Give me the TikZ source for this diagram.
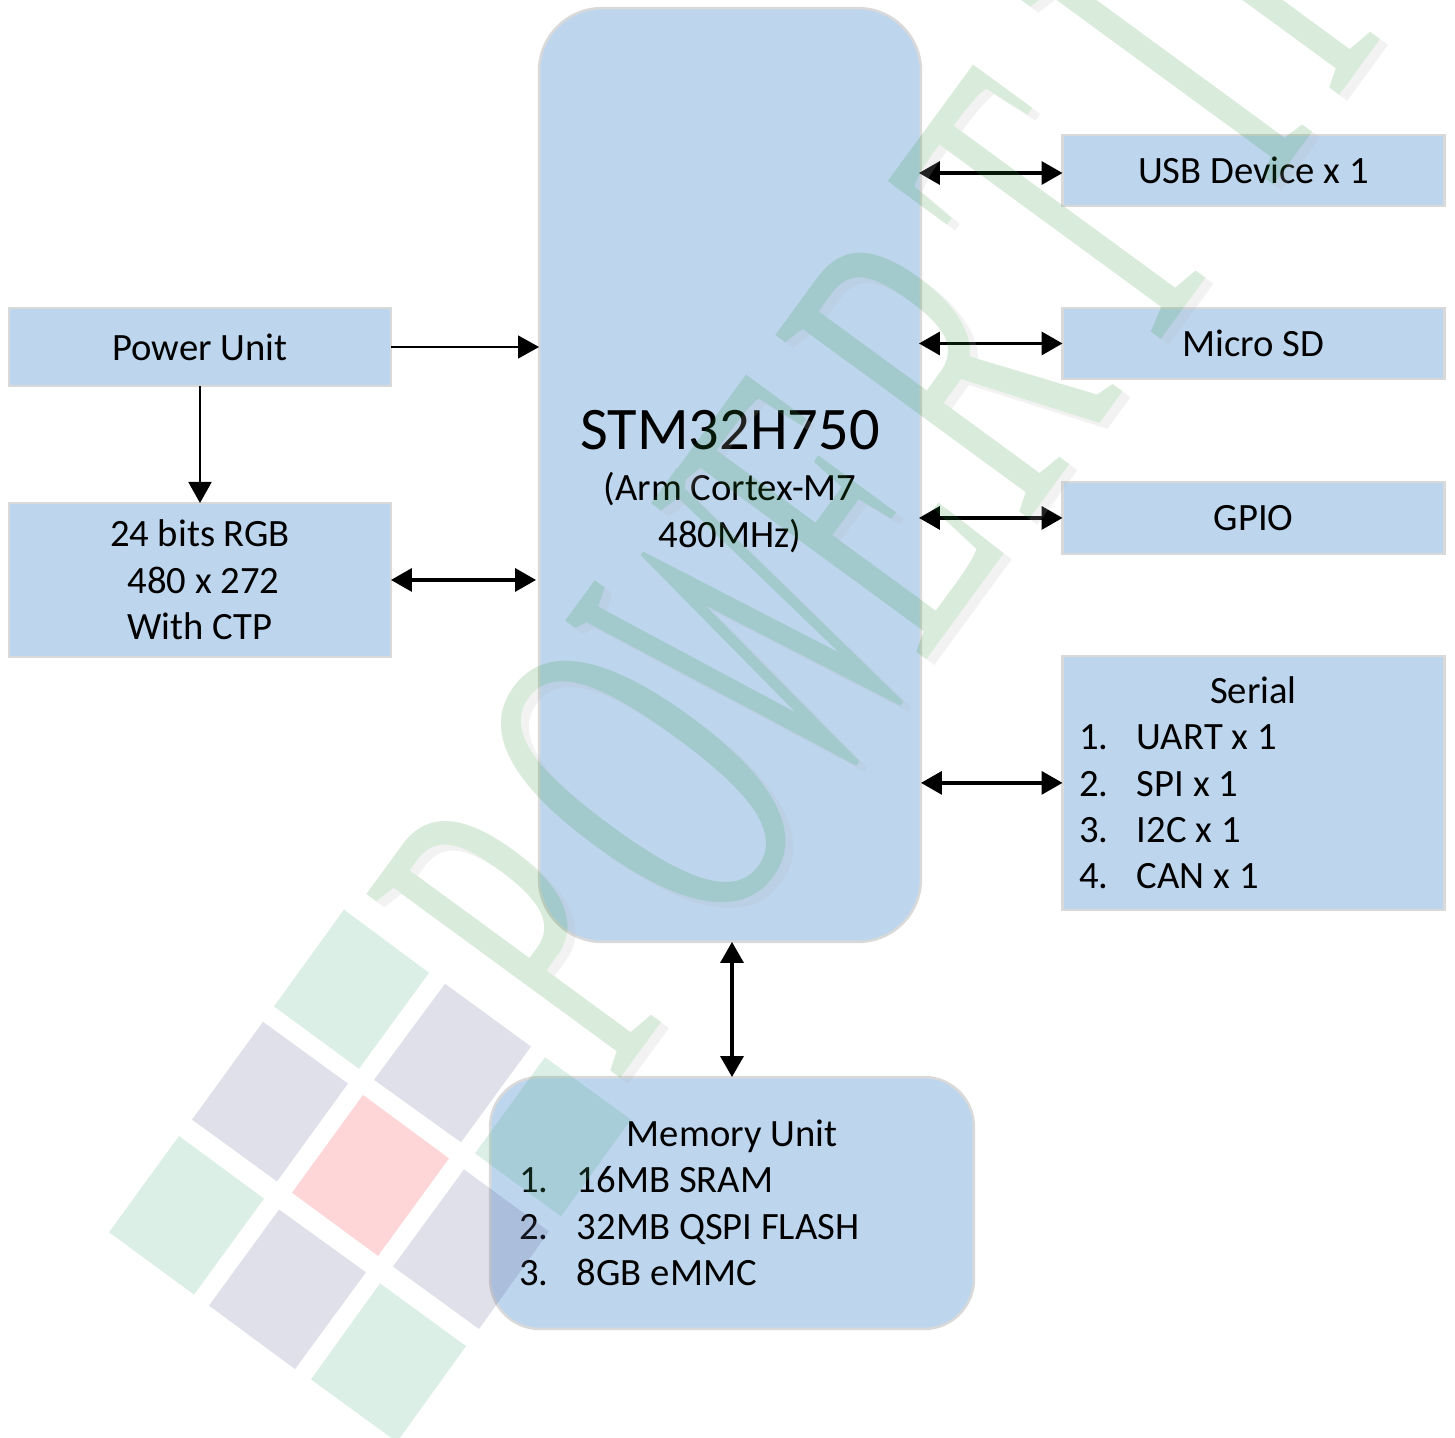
\documentclass[tikz,border=0pt]{standalone}
\usepackage{fontspec}
\setmainfont{Carlito}
\newfontfamily\wmfont{Liberation Serif}
\usetikzlibrary{arrows.meta, positioning}

\definecolor{boxblue}{RGB}{189,214,238}
\definecolor{boxedge}{RGB}{217,217,217}
\definecolor{wmgreen}{RGB}{44,144,50}
\definecolor{wmshadow}{RGB}{183,183,183}
\definecolor{sqgreen}{RGB}{80,175,130}
\definecolor{sqlilac}{RGB}{100,100,155}
\definecolor{sqpink}{RGB}{255,50,60}

\newcommand{\rowitem}[2]{\makebox[1.16cm][l]{#1}#2}
\newcommand{\rowtitle}[2]{\makebox[#1][c]{#2}}
\newcommand{\wmword}{P\kern.127em O\kern-.03em\scalebox{.8}[1]{W}\kern-.056em E\kern.076em R\kern.1em T\kern.27em I\kern.11em P}

\tikzset{
  unitbox/.style={rectangle, draw=boxedge, fill=boxblue, line width=0.05cm, outer sep=0pt, minimum width=7.64cm, inner sep=0pt, align=center, font=\fontsize{22}{26.4}\selectfont},
  conn/.style={-{Triangle[length=0.42cm,width=0.46cm]}, line width=0.04cm},
  biconn/.style={{Triangle[length=0.42cm,width=0.46cm]}-{Triangle[length=0.42cm,width=0.46cm]}, line width=0.07cm},
  wmtext/.style={anchor=base west, inner sep=0pt, rotate=53.8, xscale=0.524, transform shape, font=\wmfont\fontsize{272.6}{272.6}\selectfont},
  sqg/.style={fill=sqgreen, fill opacity=0.2},
  sql/.style={fill=sqlilac, fill opacity=0.2},
  sqp/.style={fill=sqpink, fill opacity=0.2}
}

\begin{document}
\begin{tikzpicture}[x=0.02cm, y=-0.02cm]
\useasboundingbox (0,0) rectangle (1455,1438);

% boxes
\node[unitbox, rounded corners=1.26cm, minimum height=18.68cm] (mcu) at (730,475) {};
\node[align=center, font=\fontsize{22}{26.4}\selectfont, yshift=-0.13cm] (mcutext) at (mcu) {{\fontsize{34.4}{42}\selectfont STM32H750}\\[0.1cm](Arm Cortex-M7\\480MHz)};
\node[unitbox, minimum height=1.56cm] (power) at (200,347) {Power Unit};
\node[unitbox, minimum height=3.08cm, below=2.34cm of power] (rgb) {24 bits RGB\\\hspace{0.14cm}480 x 272\\With CTP};
\node[unitbox, minimum height=1.42cm] (usb) at (1253.5,170.5) {USB Device x 1};
\node[unitbox, minimum height=1.42cm, below=2.04cm of usb] (sd) {Micro SD};
\node[unitbox, minimum height=1.44cm, below=2.06cm of sd] (gpio) {GPIO};
\node[unitbox, minimum height=5.08cm, below=2.04cm of gpio, text width=6.98cm, align=flush left] (serial) {\rowtitle{6.98cm}{Serial}\\\rowitem{1.}{UART x 1}\\\rowitem{2.}{SPI x 1}\\\rowitem{3.}{I2C x 1}\\\rowitem{4.}{CAN x 1}};
\node[unitbox, rounded corners=1cm, minimum width=9.68cm, minimum height=5.04cm, text width=8.52cm, align=flush left] (memory) at (732,1203) {\rowtitle{8.52cm}{Memory Unit}\\\rowitem{1.}{16MB SRAM}\\\rowitem{2.}{32MB QSPI FLASH}\\\rowitem{3.}{8GB eMMC}};

% connectors
\draw[conn, line width=0.025cm] (power) -- (mcu.west |- power);
\draw[conn] (power) -- (rgb);
\draw[biconn, shorten >=0.06cm] (rgb) -- (mcu.west |- rgb);
\draw[biconn, shorten <=-0.04cm] ([yshift=-0.05cm]mcu.east |- usb.west) -- ([yshift=-0.05cm]usb.west);
\draw[biconn, shorten <=-0.04cm] (mcu.east |- sd.west) -- (sd.west);
\draw[biconn, shorten <=-0.04cm] (mcu.east |- gpio.west) -- (gpio.west);
\draw[biconn] (mcu.east |- serial.west) -- (serial.west);
\draw[biconn] (mcu.south -| memory.north) -- (memory.north);

% watermark squares
\fill[sqg] (344,909.6) -- (429,972.8) -- (359,1068.8) -- (274,1006.4) -- cycle;
\fill[sql] (263,1021.8) -- (348,1083.6) -- (277,1181.4) -- (192,1119.6) -- cycle;
\fill[sql] (445,983.7) -- (531,1046.5) -- (461,1142.3) -- (374,1079.8) -- cycle;
\fill[sqp] (363,1094.9) -- (449,1158.4) -- (378,1255.9) -- (292,1192.7) -- cycle;
\fill[sqg] (179,1136) -- (264,1198.6) -- (194,1294.6) -- (109,1232.2) -- cycle;
\fill[sql] (279,1209.5) -- (366,1272.3) -- (295,1369.1) -- (209,1305.6) -- cycle;
\fill[sql] (464,1169.4) -- (549,1231.5) -- (479,1329) -- (393,1266.5) -- cycle;
\fill[sqg] (545,1057.2) -- (631,1119.6) -- (561,1216.4) -- (475,1153.3) -- cycle;
\fill[sqg] (380,1283.3) -- (466,1346.1) -- (397,1442) -- (311,1379.4) -- cycle;

% watermark text
\begin{scope}
\clip (0,0) rectangle (1455,1438);
\begin{scope}[transparency group, opacity=0.18]
\node[wmtext, text=wmshadow] (wmback) at (623,1091.5) {\wmword};
\node[wmtext, text=wmgreen] (wmfront) at (615,1085.5) {\wmword};
\end{scope}
\end{scope}
\end{tikzpicture}
\end{document}
